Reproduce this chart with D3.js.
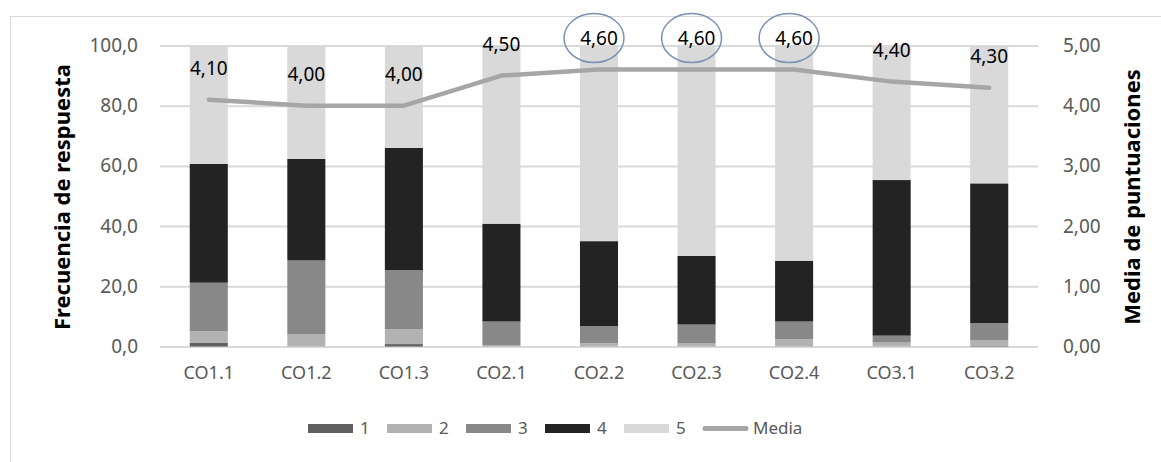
<!DOCTYPE html>
<html>
<head>
<meta charset="utf-8">
<script src="https://cdn.jsdelivr.net/npm/d3@7"></script>
<style>
  html, body { margin: 0; padding: 0; background: #fff; }
  svg { display: block; font-family: "Noto Sans", "DejaVu Sans", sans-serif; }
</style>
</head>
<body>
<svg id="chart" width="1161" height="462"></svg>
<script>
// ---- data ----
const categories = ["CO1.1", "CO1.2", "CO1.3", "CO2.1", "CO2.2", "CO2.3", "CO2.4", "CO3.1", "CO3.2"];
const serie1 = [1.3, 0.0, 0.8, 0.0, 0.0, 0.0, 0.0, 0.0, 0.3];
const serie2 = [3.8, 4.1, 5.0, 0.5, 1.1, 1.0, 2.4, 1.3, 1.7];
const serie3 = [16.1, 24.5, 19.6, 7.8, 5.7, 6.3, 5.9, 2.3, 5.8];
const serie4 = [39.5, 33.7, 40.6, 32.5, 28.2, 22.8, 20.2, 51.7, 46.4];
const serie5 = [39.3, 37.7, 34.0, 59.2, 65.0, 69.9, 71.5, 44.7, 45.8];
const media = [4.10, 4.00, 4.00, 4.50, 4.60, 4.60, 4.60, 4.40, 4.30];
const destacados = ["CO2.2", "CO2.3", "CO2.4"];
const seriesNames = ["1", "2", "3", "4", "5"];
const leftTicks = [0, 20, 40, 60, 80, 100];
const rightTicks = [0, 1, 2, 3, 4, 5];
const colors = ["#5f5f5f", "#b2b2b2", "#888888", "#232323", "#d9d9d9"];
const lineColor = "#a6a6a6";

const svg = d3.select("#chart");

// frame
svg.append("rect").attr("x", 10.5).attr("y", 16.5).attr("width", 1200).attr("height", 500)
  .attr("fill", "none").attr("stroke", "#d9d9d9").attr("stroke-width", 1);

const plotL = 160, plotR = 1038, plotT = 45.5, plotB = 346.5;

const x = d3.scaleBand().domain(categories).range([plotL, plotR]).paddingInner(0.61).paddingOuter(0.305);
const y = d3.scaleLinear().domain([0, 100]).range([plotB, plotT]);
const y2 = d3.scaleLinear().domain([0, 5]).range([plotB, plotT]);

// gridlines
const gridAxis = d3.axisLeft(y).tickValues(leftTicks).tickSize(-(plotR - plotL)).tickFormat("");
const g = svg.append("g").attr("transform", `translate(${plotL},0)`).call(gridAxis);
g.select(".domain").remove();
g.selectAll("line").attr("stroke", "#d9d9d9").attr("stroke-width", 2);

// left axis labels
const fmt1 = d => d3.format(".1f")(d).replace(".", ",");
const fmt2 = d => d3.format(".2f")(d).replace(".", ",");
const la = svg.append("g").attr("transform", `translate(138,0)`)
  .call(d3.axisLeft(y).tickValues(leftTicks).tickSize(0).tickPadding(0).tickFormat(fmt1));
la.select(".domain").remove();
la.selectAll("text").attr("fill", "#595959").style("font-size", "19px")
  .style("font-family", "'Noto Sans', sans-serif");

const ra = svg.append("g").attr("transform", `translate(1063,0)`)
  .call(d3.axisRight(y2).tickValues(rightTicks).tickSize(0).tickPadding(0).tickFormat(fmt2));
ra.select(".domain").remove();
ra.selectAll("text").attr("fill", "#595959").style("font-size", "19px")
  .style("font-family", "'Noto Sans', sans-serif");

// x axis labels
const xa = svg.append("g").attr("transform", `translate(0,${plotB + 20})`)
  .call(d3.axisBottom(x).tickSize(0).tickPadding(0));
xa.select(".domain").remove();
xa.selectAll("text").attr("fill", "#595959").style("font-size", "18px")
  .style("font-family", "'Noto Sans', sans-serif");

// stacked bars
const rows = categories.map((c, i) => ({ cat: c, "1": serie1[i], "2": serie2[i], "3": serie3[i], "4": serie4[i], "5": serie5[i] }));
const stacked = d3.stack().keys(seriesNames)(rows);
svg.append("g").selectAll("g").data(stacked).join("g")
  .attr("fill", (d, i) => colors[i])
  .selectAll("rect").data(d => d).join("rect")
  .attr("x", d => x(d.data.cat))
  .attr("width", x.bandwidth())
  .attr("y", d => y(d[1]))
  .attr("height", d => Math.max(0, y(d[0]) - y(d[1])));

// media line
const pts = categories.map((c, i) => ({ cat: c, v: media[i] }));
const line = d3.line().x(d => x(d.cat) + x.bandwidth() / 2).y(d => y2(d.v));
svg.append("path").datum(pts).attr("d", line).attr("fill", "none")
  .attr("stroke", lineColor).attr("stroke-width", 4.5)
  .attr("stroke-linecap", "round").attr("stroke-linejoin", "round");

// data labels
svg.append("g").selectAll("text").data(pts).join("text")
  .attr("x", d => x(d.cat) + x.bandwidth() / 2)
  .attr("y", d => y2(d.v) - 31)
  .attr("dy", "0.35em")
  .attr("text-anchor", "middle")
  .style("font-size", "19px")
  .attr("fill", "#000")
  .text(d => fmt2(d.v));

// highlight ellipses
svg.append("g").selectAll("ellipse").data(pts.filter(d => destacados.includes(d.cat))).join("ellipse")
  .attr("cx", d => x(d.cat) + x.bandwidth() / 2 - 5)
  .attr("cy", d => y2(d.v) - 31.5)
  .attr("rx", 30).attr("ry", 24.5)
  .attr("fill", "none").attr("stroke", "#7a90b3").attr("stroke-width", 1.5);

// axis titles
svg.append("text").attr("transform", "translate(62,197) rotate(-90)")
  .attr("text-anchor", "middle").attr("dy", "0.35em")
  .style("font-size", "22px").style("font-weight", "bold").attr("fill", "#000")
  .text("Frecuencia de respuesta");
svg.append("text").attr("transform", "translate(1132,197) rotate(-90)")
  .attr("text-anchor", "middle").attr("dy", "0.35em")
  .style("font-size", "22px").style("font-weight", "bold").attr("fill", "#000")
  .text("Media de puntuaciones");

// legend
const legendItems = seriesNames.map((n, i) => ({ name: n, color: colors[i], type: "rect" }))
  .concat([{ name: "Media", color: lineColor, type: "line" }]);
const lg = svg.append("g").attr("transform", "translate(308,428.5)");
const li = lg.selectAll("g").data(legendItems).join("g")
  .attr("transform", (d, i) => `translate(${i * 79},0)`);
li.filter(d => d.type === "rect").append("rect")
  .attr("x", 0).attr("y", -4.5).attr("width", 45).attr("height", 9).attr("fill", d => d.color);
li.filter(d => d.type === "line").append("line")
  .attr("x1", 2).attr("x2", 43).attr("y1", 0).attr("y2", 0)
  .attr("stroke", d => d.color).attr("stroke-width", 5).attr("stroke-linecap", "round");
li.append("text").attr("x", d => d.type === "line" ? 50 : 52).attr("y", 0).attr("dy", "0.35em")
  .style("font-size", "17px").attr("fill", "#595959").text(d => d.name);
</script>
</body>
</html>
